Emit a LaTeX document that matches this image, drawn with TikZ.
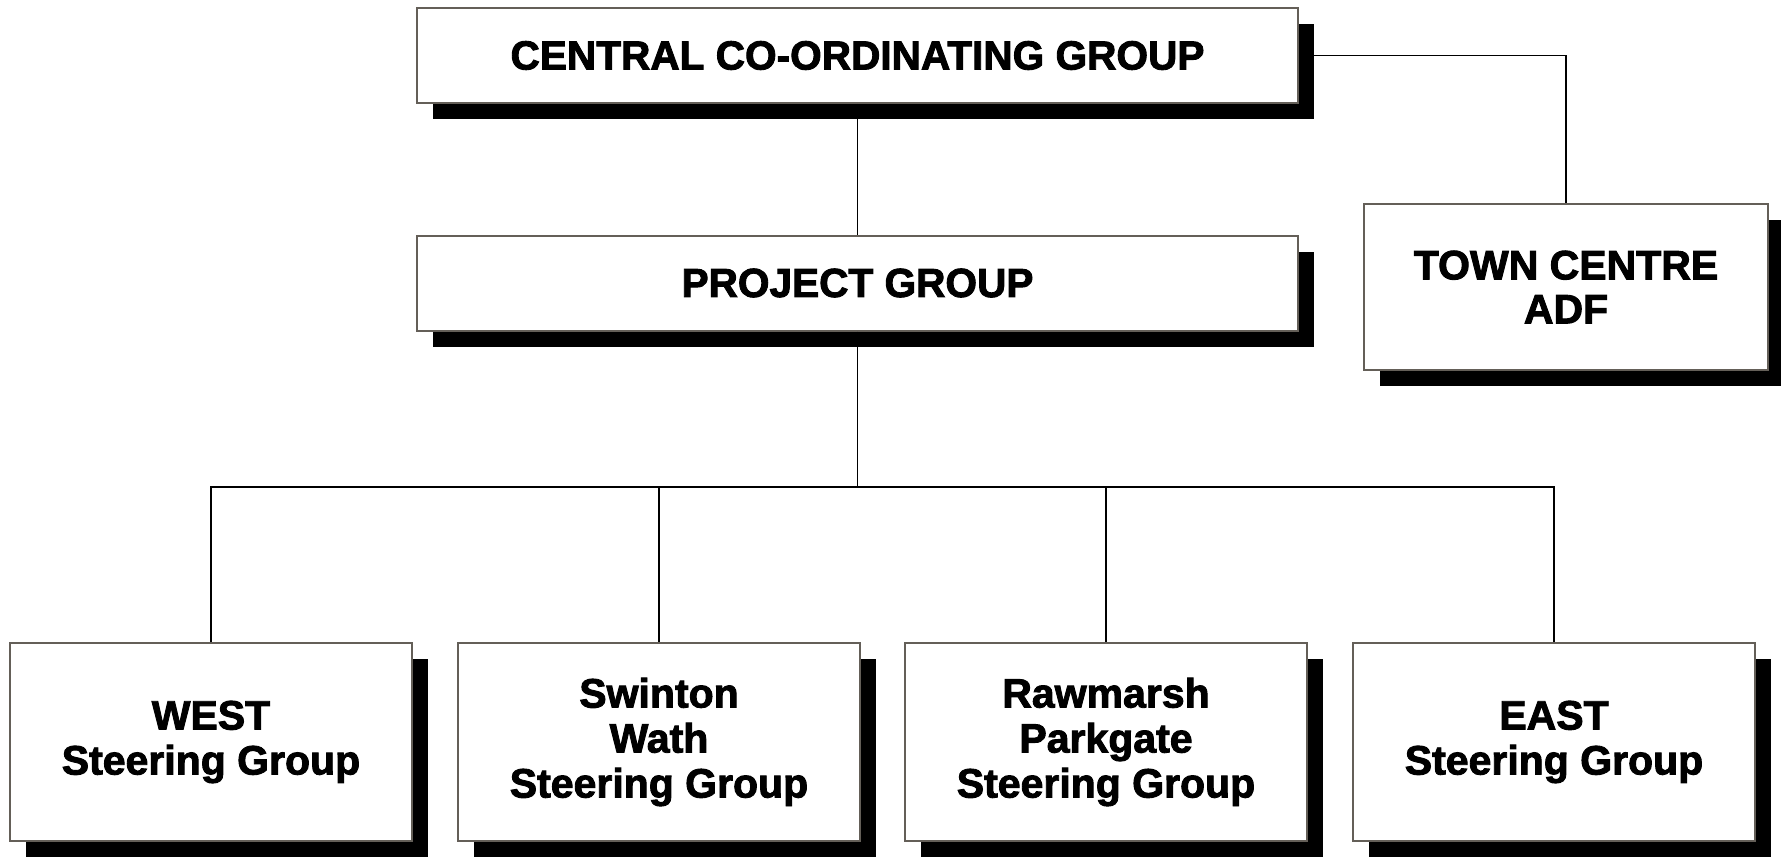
\documentclass[tikz,border=0pt]{standalone}
\usepackage{fontspec}
\setmainfont{Liberation Sans}[BoldFeatures={FakeBold=2.2}]
\usetikzlibrary{shadows}
\definecolor{rimgray}{RGB}{100,95,88}
\tikzset{
  grp/.style={draw=rimgray,line width=1pt,fill=white,align=center,font=\bfseries,
    drop shadow={shadow xshift=8pt,shadow yshift=-8pt,fill=black,opacity=1}},
  top/.style={grp,minimum width=440.5pt,minimum height=47.5pt,font=\bfseries\fontsize{20.3}{23}\selectfont},
  steer/.style={grp,minimum width=201pt,minimum height=99pt,font=\bfseries\fontsize{20.5}{22.5}\selectfont},
  link/.style={line width=0.8pt}
}
\begin{document}
\begin{tikzpicture}[x=0.5pt,y=-0.5pt]
\useasboundingbox (0,0) rectangle (1781,856);
\node[top] (CG) at (857.5,55.5) {CENTRAL CO-ORDINATING GROUP};
\node[top] (PG) at (857.5,283) {PROJECT GROUP};
\node[grp,minimum width=202pt,minimum height=83pt,font=\bfseries\fontsize{20.5}{22}\selectfont] (TC) at (1566,287) {TOWN CENTRE\\ADF};

\node[steer] (W) at (211,742) {WEST\\Steering Group};
\node[steer] (SW) at (659,742) {Swinton\\Wath\\Steering Group};
\node[steer] (RP) at (1106,742) {Rawmarsh\\Parkgate\\Steering Group};
\node[steer] (E) at (1554,742) {EAST\\Steering Group};

\coordinate (bus) at (857.5,487);
\draw[link] (CG) -- (PG);
\draw[link] (CG.east) -| (TC.north);
\draw[link] (PG) -- (bus);
\foreach \g in {W,SW,RP,E}
  \draw[link] (bus) -| (\g.north);
\end{tikzpicture}
\end{document}
